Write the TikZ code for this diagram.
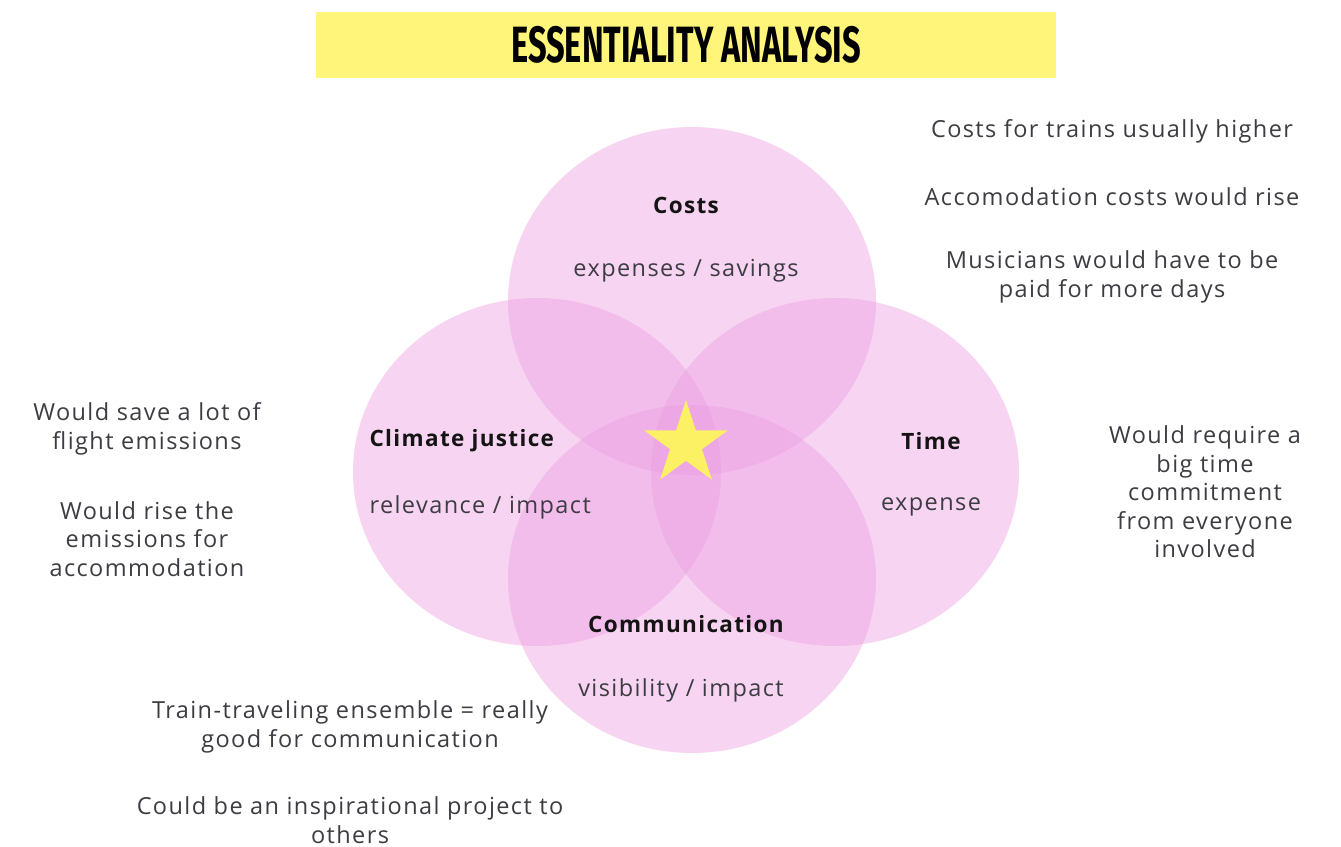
\documentclass[tikz,border=0pt]{standalone}
\usepackage{fontspec}
\setmainfont{Open Sans}[LetterSpace=6]
\newfontfamily\bannerfont{Fira Sans}
\usetikzlibrary{shapes.geometric}

\definecolor{venn}{RGB}{236,156,226}
\definecolor{banner}{RGB}{255,245,122}
\definecolor{starfill}{RGB}{252,240,100}
\definecolor{note}{RGB}{60,60,66}

\tikzset{
  vennset/.style={ellipse, minimum width=368pt, minimum height=348pt, inner sep=0pt, fill=venn, fill opacity=0.42},
  head/.style={font=\fontsize{22.5}{26}\selectfont\bfseries, text=black!92},
  sub/.style={font=\fontsize{23.5}{26}\selectfont, text=note},
  remark/.style={font=\fontsize{23.5}{28.5}\selectfont, text=note, align=center, inner sep=0pt},
}

\begin{document}
\begin{tikzpicture}[x=1pt,y=-1pt]
    \useasboundingbox (0,0) rectangle (1341,846);
    \fill[white] (0,0) rectangle (1341,846);

    % title banner
    \node[fill=banner, minimum width=740pt, minimum height=66pt, inner sep=0pt] (title) at (686,45)
        {\scalebox{0.64}[1]{\bannerfont\fontsize{51}{55}\selectfont\bfseries ESSENTIALITY ANALYSIS}};

    % the four sets
    \node[vennset] (costs) at (692,301) {};
    \node[vennset] (climate) at (537,472) {};
    \node[vennset] (time) at (835,472) {};
    \node[vennset] (comm) at (692,579) {};

    \node[star, star points=5, star point ratio=2.618, minimum size=88pt, inner sep=0pt, fill=starfill] (core) at (686,444) {};

    % set labels
    \node[head] (costs-h) at (686,205) {Costs};
    \node[sub] (costs-s) at (686,271) {expenses / savings};
    \node[head, anchor=west] (climate-h) at (366,441) {Climate justice};
    \node[sub, anchor=west] (climate-s) at (366,507) {relevance / impact};
    \node[head] (time-h) at (931,441) {Time};
    \node[sub] (time-s) at (931,507) {expense};
    \node[head] (comm-h) at (686,624) {Communication};
    \node[sub] (comm-s) at (681,690) {visibility / impact};

    % remarks around
    \node[remark] (r1) at (1112,131) {Costs for trains usually higher};
    \node[remark] (r2) at (1112,197) {Accomodation costs would rise};
    \node[remark] (r3) at (1112,277) {Musicians would have to be\\paid for more days};
    \node[remark] (r4) at (1205,492) {Would require a\\big time\\commitment\\from everyone\\involved};
    \node[remark] (r5) at (147,429) {Would save a lot of\\flight emissions};
    \node[remark] (r6) at (147,539) {Would rise the\\emissions for\\accommodation};
    \node[remark] (r7) at (350,727) {Train-traveling ensemble = really\\good for communication};
    \node[remark] (r8) at (350,820) {Could be an inspirational project to\\others};

\end{tikzpicture}
\end{document}
